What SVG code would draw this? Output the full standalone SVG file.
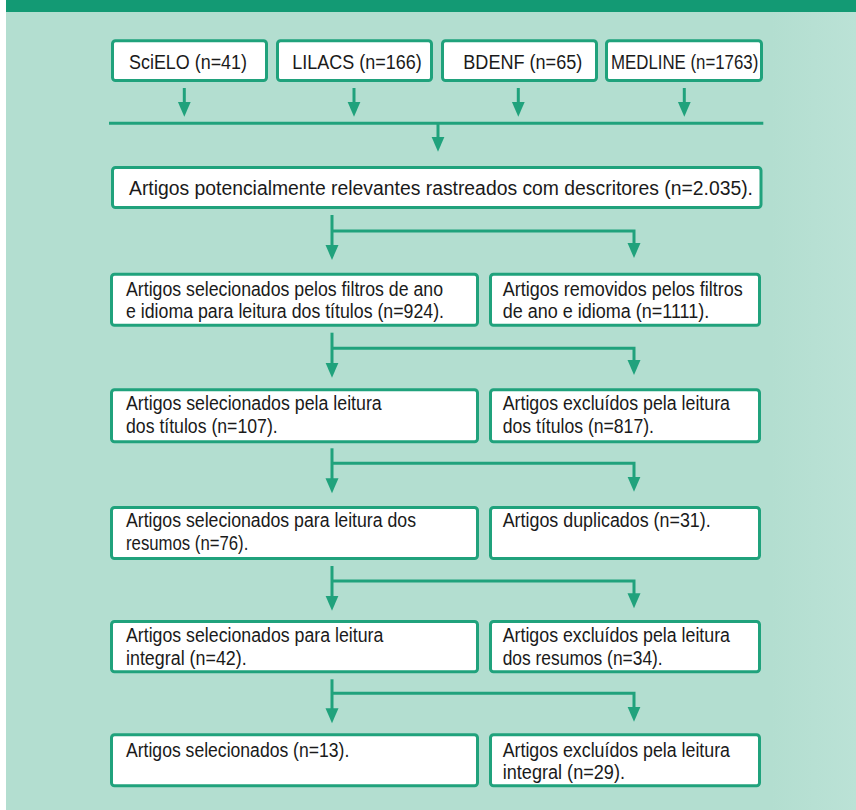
<svg xmlns="http://www.w3.org/2000/svg" width="856" height="810" viewBox="0 0 856 810">
<style>
.box{fill:#ffffff;stroke:#20a27c;stroke-width:3}
.ln{fill:none;stroke:#20a27c;stroke-width:3}
.t{font-family:"Liberation Sans",Arial,sans-serif;font-size:19.5px;fill:#1a1a1a}
</style>
<defs>
<marker id="ah" markerUnits="userSpaceOnUse" markerWidth="16" markerHeight="14" refX="3" refY="6.5" orient="auto" viewBox="0 0 16 13">
<path d="M0,0 L15,6.5 L0,13 Z" fill="#20a27c"/>
</marker>
<linearGradient id="bg" x1="0" y1="0" x2="1" y2="0">
<stop offset="0" stop-color="#b3ded0"/>
<stop offset="0.9" stop-color="#b3ded0"/>
<stop offset="1" stop-color="#bbe2d6"/>
</linearGradient>
</defs>
<rect x="0" y="0" width="856" height="810" fill="#ffffff"/>
<rect x="6" y="0" width="850" height="810" fill="url(#bg)"/>
<rect x="6" y="0" width="850" height="12" fill="#139a74"/>

<g id="connectors">
<path class="ln" d="M184.3,88 V104.7" marker-end="url(#ah)"/>
<path class="ln" d="M354,88 V104.7" marker-end="url(#ah)"/>
<path class="ln" d="M518.3,88 V104.7" marker-end="url(#ah)"/>
<path class="ln" d="M684.3,88 V104.7" marker-end="url(#ah)"/>
<path class="ln" d="M109,123.3 H763.3"/>
<path class="ln" d="M438,123.3 V139.7" marker-end="url(#ah)"/>

<path class="ln" d="M332,215 V248" marker-end="url(#ah)"/>
<path class="ln" d="M332,231 H634 V246" marker-end="url(#ah)"/>

<path class="ln" d="M332,332.7 V365.7" marker-end="url(#ah)"/>
<path class="ln" d="M332,348.3 H634 V363" marker-end="url(#ah)"/>

<path class="ln" d="M332,448.3 V481.3" marker-end="url(#ah)"/>
<path class="ln" d="M332,463.3 H634 V479.7" marker-end="url(#ah)"/>

<path class="ln" d="M332,566 V598.7" marker-end="url(#ah)"/>
<path class="ln" d="M332,581 H634 V596.3" marker-end="url(#ah)"/>

<path class="ln" d="M332,679.3 V711.3" marker-end="url(#ah)"/>
<path class="ln" d="M332,693.3 H634 V709.7" marker-end="url(#ah)"/>
</g>

<g id="scielo">
<rect class="box" x="112.5" y="40.8" width="154" height="39.7" rx="3"/>
<text class="t" x="129" y="68.6" textLength="118" lengthAdjust="spacingAndGlyphs">SciELO (n=41)</text>
</g>
<g id="lilacs">
<rect class="box" x="277.5" y="40.8" width="154" height="39.7" rx="3"/>
<text class="t" x="292.3" y="68.6" textLength="129.4" lengthAdjust="spacingAndGlyphs">LILACS (n=166)</text>
</g>
<g id="bdenf">
<rect class="box" x="442.5" y="40.8" width="154" height="39.7" rx="3"/>
<text class="t" x="463.3" y="68.6" textLength="119" lengthAdjust="spacingAndGlyphs">BDENF (n=65)</text>
</g>
<g id="medline">
<rect class="box" x="606.5" y="40.8" width="155" height="39.7" rx="3"/>
<text class="t" x="611" y="68.6" textLength="147.3" lengthAdjust="spacingAndGlyphs">MEDLINE (n=1763)</text>
</g>

<g id="potenciais">
<rect class="box" x="112.5" y="167.5" width="648.5" height="40" rx="3"/>
<text class="t" x="129" y="195" textLength="624" lengthAdjust="spacingAndGlyphs">Artigos potencialmente relevantes rastreados com descritores (n=2.035).</text>
</g>

<g id="sel-filtros">
<rect class="box" x="111.5" y="274.2" width="366" height="51" rx="3"/>
<text class="t" x="126" y="295.7" textLength="317" lengthAdjust="spacingAndGlyphs">Artigos selecionados pelos filtros de ano</text>
<text class="t" x="126" y="318.3" textLength="318" lengthAdjust="spacingAndGlyphs">e idioma para leitura dos títulos (n=924).</text>
</g>
<g id="rem-filtros">
<rect class="box" x="490.5" y="274.2" width="269" height="51" rx="3"/>
<text class="t" x="502.7" y="295.7" textLength="240" lengthAdjust="spacingAndGlyphs">Artigos removidos pelos filtros</text>
<text class="t" x="502.7" y="318.3" textLength="206.6" lengthAdjust="spacingAndGlyphs">de ano e idioma (n=1111).</text>
</g>

<g id="sel-titulos">
<rect class="box" x="111.5" y="389.8" width="366" height="52" rx="3"/>
<text class="t" x="126" y="410" textLength="255.7" lengthAdjust="spacingAndGlyphs">Artigos selecionados pela leitura</text>
<text class="t" x="126" y="432.7" textLength="151.7" lengthAdjust="spacingAndGlyphs">dos títulos (n=107).</text>
</g>
<g id="exc-titulos">
<rect class="box" x="490.5" y="389.8" width="269" height="52" rx="3"/>
<text class="t" x="502.7" y="410" textLength="227.3" lengthAdjust="spacingAndGlyphs">Artigos excluídos pela leitura</text>
<text class="t" x="502.7" y="432.7" textLength="151.3" lengthAdjust="spacingAndGlyphs">dos títulos (n=817).</text>
</g>

<g id="sel-resumos">
<rect class="box" x="111.5" y="507.5" width="366" height="51" rx="3"/>
<text class="t" x="126" y="527.3" textLength="290" lengthAdjust="spacingAndGlyphs">Artigos selecionados para leitura dos</text>
<text class="t" x="126" y="550" textLength="122.3" lengthAdjust="spacingAndGlyphs">resumos (n=76).</text>
</g>
<g id="duplicados">
<rect class="box" x="490.5" y="507.5" width="269" height="51" rx="3"/>
<text class="t" x="502.7" y="527.3" textLength="208" lengthAdjust="spacingAndGlyphs">Artigos duplicados (n=31).</text>
</g>

<g id="sel-integral">
<rect class="box" x="111.5" y="621.5" width="366" height="50.3" rx="3"/>
<text class="t" x="126" y="642" textLength="257.3" lengthAdjust="spacingAndGlyphs">Artigos selecionados para leitura</text>
<text class="t" x="126" y="665" textLength="120.7" lengthAdjust="spacingAndGlyphs">integral (n=42).</text>
</g>
<g id="exc-resumos">
<rect class="box" x="490.5" y="621.5" width="269" height="50.3" rx="3"/>
<text class="t" x="502.7" y="642" textLength="227.3" lengthAdjust="spacingAndGlyphs">Artigos excluídos pela leitura</text>
<text class="t" x="502.7" y="665" textLength="160" lengthAdjust="spacingAndGlyphs">dos resumos (n=34).</text>
</g>

<g id="selecionados">
<rect class="box" x="111.5" y="734.8" width="366" height="51" rx="3"/>
<text class="t" x="126" y="757.3" textLength="223.3" lengthAdjust="spacingAndGlyphs">Artigos selecionados (n=13).</text>
</g>
<g id="exc-integral">
<rect class="box" x="490.5" y="734.8" width="269" height="51" rx="3"/>
<text class="t" x="502.7" y="757.3" textLength="227.3" lengthAdjust="spacingAndGlyphs">Artigos excluídos pela leitura</text>
<text class="t" x="502.7" y="779.3" textLength="122.3" lengthAdjust="spacingAndGlyphs">integral (n=29).</text>
</g>
</svg>
